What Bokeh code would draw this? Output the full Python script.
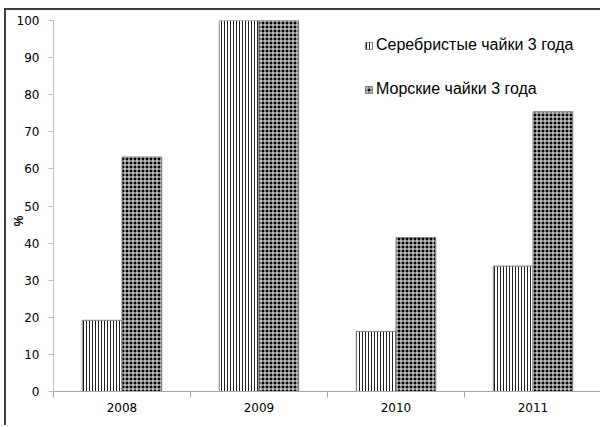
import numpy as np
from bokeh.plotting import figure
from bokeh.layouts import column, row
from bokeh.models import (ColumnDataSource, FixedTicker, Range1d, Legend, LegendItem, Spacer)
from bokeh.embed import file_html
from bokeh.resources import INLINE

years = ["2008", "2009", "2010", "2011"]
herring_gull = [19.2, 100.0, 16.2, 33.8]   # Серебристые чайки 3 года
great_gull = [63.2, 100.0, 41.5, 75.4]     # Морские чайки 3 года
series_names = ["Серебристые чайки 3 года", "Морские чайки 3 года"]
y_ticks = [0, 10, 20, 30, 40, 50, 60, 70, 80, 90, 100]

centers = np.arange(len(years)) + 0.5
bar_w = 0.29

p = figure(width=596, height=417, output_backend="svg", toolbar_location=None,
           x_range=Range1d(0, len(years)), y_range=Range1d(0, 100),
           min_border_left=47, min_border_right=1, min_border_top=10, min_border_bottom=36)
p.styles = {"border-left": "2px solid #404040", "border-top": "2px solid #404040"}
p.outline_line_color = None
p.xgrid.visible = False
p.ygrid.visible = False

src1 = ColumnDataSource(dict(x=centers - bar_w / 2, top=herring_gull))
src2 = ColumnDataSource(dict(x=centers + bar_w / 2, top=great_gull))

r1 = p.vbar(x="x", top="top", bottom=0, width=bar_w, source=src1,
            fill_color="white", line_color="#808080", line_width=1,
            hatch_pattern="vertical_line", hatch_color="#222222", hatch_scale=3, hatch_weight=1)
r2 = p.vbar(x="x", top="top", bottom=0, width=bar_w, source=src2,
            fill_color="black", line_color="#808080", line_width=1,
            hatch_pattern="cross", hatch_color="white", hatch_scale=4, hatch_weight=1)

legend = Legend(items=[LegendItem(label=series_names[0], renderers=[r1]),
                       LegendItem(label=series_names[1], renderers=[r2])],
                location=(307, 289), orientation="vertical",
                label_text_font="Liberation Sans", label_text_font_size="16px",
                label_text_color="#000000",
                glyph_width=9, glyph_height=9, spacing=26, padding=4, margin=0,
                label_standoff=3,
                border_line_alpha=0, background_fill_alpha=0)
p.add_layout(legend)

# y axis
p.yaxis.ticker = FixedTicker(ticks=y_ticks)
p.yaxis.axis_line_color = "#BFBFBF"
p.yaxis.major_tick_line_color = "#BFBFBF"
p.yaxis.major_tick_out = 5
p.yaxis.major_tick_in = 0
p.yaxis.minor_tick_line_color = None
p.yaxis.major_label_standoff = 9
p.yaxis.major_label_text_font = "DejaVu Sans"
p.yaxis.major_label_text_font_size = "12px"
p.yaxis.major_label_text_color = "#000000"
p.yaxis.axis_label = "%" + "\u00a0" * 9
p.yaxis.axis_label_standoff = -12
p.yaxis.axis_label_text_font = "Liberation Sans"
p.yaxis.axis_label_text_font_size = "12px"
p.yaxis.axis_label_text_font_style = "bold"
p.yaxis.axis_label_text_color = "#000000"

# x axis: labels at centers, ticks at category boundaries
p.xaxis.ticker = FixedTicker(ticks=list(centers), minor_ticks=list(np.arange(len(years) + 1)))
p.xaxis.major_label_overrides = {float(c): y for c, y in zip(centers, years)}
p.xaxis.axis_line_color = "#A6A6A6"
p.xaxis.major_tick_line_color = None
p.xaxis.minor_tick_line_color = "#A6A6A6"
p.xaxis.minor_tick_out = 6
p.xaxis.minor_tick_in = 0
p.xaxis.major_label_standoff = 5
p.xaxis.major_label_text_font = "DejaVu Sans"
p.xaxis.major_label_text_font_size = "12px"
p.xaxis.major_label_text_color = "#000000"

layout = column(Spacer(height=8), row(Spacer(width=4), p))

open("out.html", "w").write(file_html(layout, INLINE))
